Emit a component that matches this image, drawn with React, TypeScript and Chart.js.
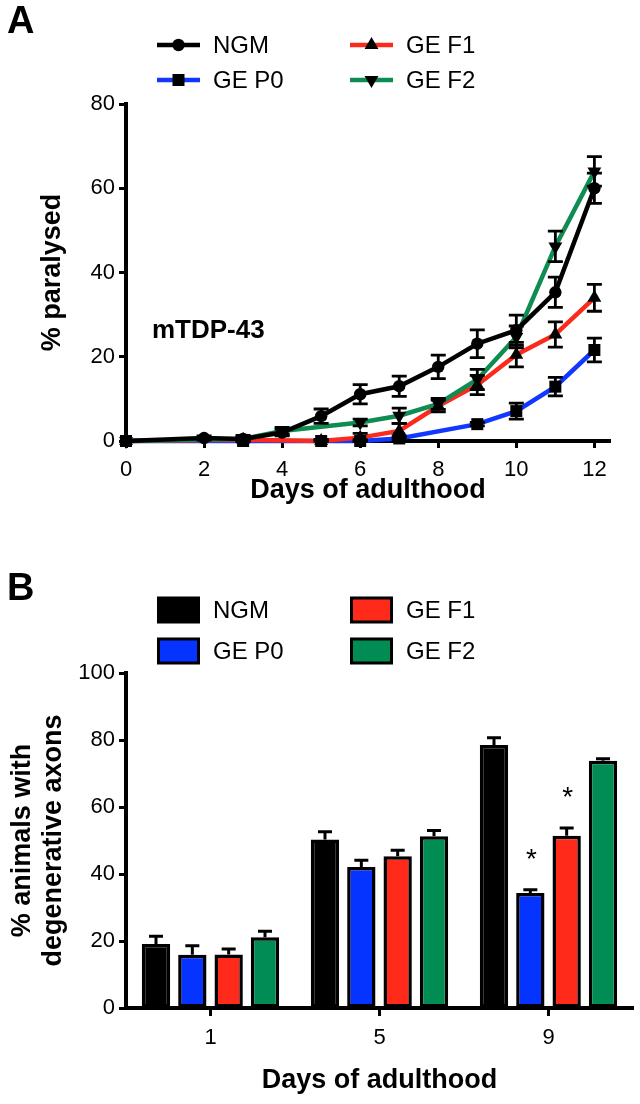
import React, { useEffect, useRef } from 'react';
import { Chart, registerables } from 'chart.js';

Chart.register(...registerables);

// ---------- Panel A data ----------
const seriesNames = ['NGM', 'GE P0', 'GE F1', 'GE F2'];

const ngmDays = [0, 2, 3, 4, 5, 6, 7, 8, 9, 10, 11, 12];
const ngmPct = [0, 0.7, 0.5, 2.0, 5.9, 11.1, 13.0, 17.6, 23.1, 26.3, 35.3, 60.0];
const ngmErr = [0, 0.5, 0.5, 0.8, 1.7, 2.3, 2.4, 2.8, 3.3, 3.6, 3.6, 3.6];

const p0Days = [0, 3, 5, 6, 7, 9, 10, 11, 12];
const p0Pct = [0, 0, 0, 0, 0.6, 4.0, 7.1, 12.9, 21.6];
const p0Err = [0, 0, 0.3, 0.3, 0.6, 0.4, 1.9, 2.2, 2.8];

const f1Days = [0, 3, 5, 6, 7, 8, 9, 10, 11, 12];
const f1Pct = [0, 0.3, 0, 0.8, 2.4, 8.3, 13.3, 20.5, 25.3, 34.0];
const f1Err = [0, 0.6, 0.3, 1.0, 1.8, 1.4, 2.3, 2.9, 3.0, 3.2];

const f2Days = [0, 3, 4, 6, 7, 8, 9, 10, 11, 12];
const f2Pct = [0, 0.5, 2.4, 4.4, 6.0, 8.8, 14.6, 24.7, 46.2, 64.0];
const f2Err = [0, 0.8, 0.8, 0.8, 1.8, 1.3, 2.4, 2.6, 3.6, 3.5];

const xTicksA = [0, 2, 4, 6, 8, 10, 12];

// ---------- Panel B data ----------
const bDays = ['1', '5', '9'];
const ngmB = [19.1, 50.3, 78.5];
const ngmBErr = [2.3, 2.3, 2.2];
const p0B = [15.9, 42.1, 34.3];
const p0BErr = [2.7, 2.0, 1.0];
const f1B = [16.0, 45.3, 51.4];
const f1BErr = [1.6, 1.8, 2.3];
const f2B = [21.1, 51.3, 73.8];
const f2BErr = [1.8, 1.7, 0.6];
const p0BStars = ['', '', '*'];
const f1BStars = ['', '', '*'];

// ---------- styling ----------
const BLACK = '#000000';
const BLUE = '#1238ff';
const RED = '#fa2a1c';
const GREEN = '#0f8c52';
const BAR_BLUE = '#0533ff';
const BAR_RED = '#ff2a1a';
const BAR_GREEN = '#008c52';
const FONT = "'Liberation Sans', Arial, sans-serif";

type Marker = 'circle' | 'rect' | 'triUp' | 'triDown';

function drawMarker(ctx: CanvasRenderingContext2D, m: Marker, x: number, y: number) {
  ctx.save();
  ctx.fillStyle = BLACK;
  ctx.beginPath();
  if (m === 'circle') {
    ctx.arc(x, y, 6.2, 0, Math.PI * 2);
  } else if (m === 'rect') {
    ctx.rect(x - 6, y - 6, 12, 12);
  } else {
    const r = 8;
    const s = m === 'triUp' ? 1 : -1;
    ctx.moveTo(x, y - s * r);
    ctx.lineTo(x + 0.866 * r, y + s * 0.5 * r);
    ctx.lineTo(x - 0.866 * r, y + s * 0.5 * r);
    ctx.closePath();
  }
  ctx.fill();
  ctx.restore();
}

const seriesA = [
  { name: seriesNames[0], days: ngmDays, pct: ngmPct, err: ngmErr, color: BLACK, marker: 'circle' as Marker },
  { name: seriesNames[3], days: f2Days, pct: f2Pct, err: f2Err, color: GREEN, marker: 'triDown' as Marker },
  { name: seriesNames[2], days: f1Days, pct: f1Pct, err: f1Err, color: RED, marker: 'triUp' as Marker },
  { name: seriesNames[1], days: p0Days, pct: p0Pct, err: p0Err, color: BLUE, marker: 'rect' as Marker },
];

const legendA = [
  { name: seriesNames[0], color: BLACK, marker: 'circle' as Marker, col: 0, row: 0 },
  { name: seriesNames[1], color: BLUE, marker: 'rect' as Marker, col: 0, row: 1 },
  { name: seriesNames[2], color: RED, marker: 'triUp' as Marker, col: 1, row: 0 },
  { name: seriesNames[3], color: GREEN, marker: 'triDown' as Marker, col: 1, row: 1 },
];

const legendB = [
  { name: seriesNames[0], color: BLACK, col: 0, row: 0 },
  { name: seriesNames[1], color: BAR_BLUE, col: 0, row: 1 },
  { name: seriesNames[2], color: BAR_RED, col: 1, row: 0 },
  { name: seriesNames[3], color: BAR_GREEN, col: 1, row: 1 },
];

const LEG_COL_X = [157, 350];

const pluginA = {
  id: 'panelA',
  afterDatasetsDraw(chart: any) {
    const ctx: CanvasRenderingContext2D = chart.ctx;
    const xs = chart.scales.x;
    const ys = chart.scales.y;
    ctx.save();
    ctx.strokeStyle = BLACK;
    ctx.lineWidth = 2.8;
    const cap = 7.5;
    seriesA.forEach((s) => {
      s.days.forEach((d, i) => {
        const e = s.err[i];
        if (!e) return;
        const px = xs.getPixelForValue(d);
        const yt = ys.getPixelForValue(s.pct[i] + e);
        const yb = ys.getPixelForValue(Math.max(0, s.pct[i] - e));
        ctx.beginPath();
        ctx.moveTo(px, yt);
        ctx.lineTo(px, yb);
        ctx.moveTo(px - cap, yt);
        ctx.lineTo(px + cap, yt);
        ctx.moveTo(px - cap, yb);
        ctx.lineTo(px + cap, yb);
        ctx.stroke();
      });
    });
    seriesA.slice().reverse().forEach((s) => {
      s.days.forEach((d, i) => {
        drawMarker(ctx, s.marker, xs.getPixelForValue(d), ys.getPixelForValue(s.pct[i]));
      });
    });
    ctx.restore();
  },
  afterDraw(chart: any) {
    const ctx: CanvasRenderingContext2D = chart.ctx;
    ctx.save();
    ctx.fillStyle = BLACK;
    ctx.font = `bold 38px ${FONT}`;
    ctx.textBaseline = 'alphabetic';
    ctx.textAlign = 'left';
    ctx.fillText('A', 7, 33);
    const rowY = [45, 80];
    legendA.forEach((l) => {
      const x1 = LEG_COL_X[l.col];
      const y = rowY[l.row];
      ctx.strokeStyle = l.color;
      ctx.lineWidth = 4.5;
      ctx.beginPath();
      ctx.moveTo(x1, y);
      ctx.lineTo(x1 + 43, y);
      ctx.stroke();
      drawMarker(ctx, l.marker, x1 + 21.5, y);
      ctx.fillStyle = BLACK;
      ctx.font = `24px ${FONT}`;
      ctx.textBaseline = 'middle';
      ctx.fillText(l.name, x1 + 56, y + 1);
    });
    ctx.font = `bold 26px ${FONT}`;
    ctx.textBaseline = 'middle';
    ctx.fillText('mTDP-43', chart.chartArea.left + 26, chart.scales.y.getPixelForValue(26.2));
    ctx.restore();
  },
};

const pluginB = {
  id: 'panelB',
  afterDatasetsDraw(chart: any) {
    const ctx: CanvasRenderingContext2D = chart.ctx;
    const ys = chart.scales.y;
    const errs = [ngmBErr, p0BErr, f1BErr, f2BErr];
    const vals = [ngmB, p0B, f1B, f2B];
    const stars = [null, p0BStars, f1BStars, null];
    ctx.save();
    ctx.strokeStyle = BLACK;
    ctx.lineWidth = 3;
    chart.data.datasets.forEach((ds: any, di: number) => {
      const meta = chart.getDatasetMeta(di);
      meta.data.forEach((bar: any, i: number) => {
        const top = ys.getPixelForValue(vals[di][i]);
        const et = ys.getPixelForValue(vals[di][i] + errs[di][i]);
        ctx.beginPath();
        ctx.moveTo(bar.x, top);
        ctx.lineTo(bar.x, et);
        ctx.moveTo(bar.x - 7, et);
        ctx.lineTo(bar.x + 7, et);
        ctx.stroke();
        const st = stars[di];
        if (st && st[i]) {
          ctx.fillStyle = BLACK;
          ctx.font = `28px ${FONT}`;
          ctx.textAlign = 'center';
          ctx.textBaseline = 'alphabetic';
          ctx.fillText(st[i], bar.x + 1, et - 22);
        }
      });
    });
    ctx.restore();
  },
  afterDraw(chart: any) {
    const ctx: CanvasRenderingContext2D = chart.ctx;
    ctx.save();
    ctx.fillStyle = BLACK;
    ctx.font = `bold 38px ${FONT}`;
    ctx.textBaseline = 'alphabetic';
    ctx.textAlign = 'left';
    ctx.fillText('B', 7, 55);
    const rowY = [65, 106];
    legendB.forEach((l) => {
      const x1 = LEG_COL_X[l.col];
      const y = rowY[l.row];
      ctx.fillStyle = BLACK;
      ctx.fillRect(x1, y - 13.5, 43, 27);
      ctx.fillStyle = l.color;
      ctx.fillRect(x1 + 3, y - 10.5, 37, 21);
      ctx.fillStyle = BLACK;
      ctx.font = `24px ${FONT}`;
      ctx.textBaseline = 'middle';
      ctx.fillText(l.name, x1 + 56, y + 1);
    });
    ctx.restore();
  },
};

const axisCommon = {
  border: { display: true, color: BLACK, width: 4 },
  grid: { display: true, drawOnChartArea: false, drawTicks: true, tickLength: 7, tickWidth: 3, tickColor: BLACK, color: BLACK },
};

const titleFont = { family: FONT, size: 27, weight: 'bold' };
const tickFont = { family: FONT, size: 22 };

export default function App() {
  const refA = useRef<HTMLCanvasElement>(null);
  const refB = useRef<HTMLCanvasElement>(null);

  useEffect(() => {
    document.body.style.margin = '0';
    const chartA = new Chart(refA.current as HTMLCanvasElement, {
      type: 'line',
      data: {
        datasets: seriesA.map((s) => ({
          label: s.name,
          data: s.days.map((d, i) => ({ x: d, y: s.pct[i] })),
          borderColor: s.color,
          backgroundColor: s.color,
          borderWidth: 4.5,
          pointRadius: 0,
          tension: 0,
          fill: false,
          clip: false as any,
        })),
      },
      options: {
        responsive: false,
        animation: false,
        layout: { padding: { top: 104, right: 30, left: 0, bottom: 0 } },
        plugins: { legend: { display: false }, tooltip: { enabled: false } },
        scales: {
          x: {
            type: 'linear',
            min: 0,
            max: 12.4,
            ...axisCommon,
            afterBuildTicks: (scale: any) => {
              scale.ticks = xTicksA.map((v) => ({ value: v }));
            },
            afterFit: (scale: any) => {
              scale.height = 104;
            },
            ticks: { color: BLACK, font: tickFont, padding: 9, maxRotation: 0 },
            title: {
              display: true,
              text: 'Days of adulthood',
              color: BLACK,
              font: titleFont,
              padding: { top: 0, bottom: 38 },
            },
          },
          y: {
            type: 'linear',
            min: 0,
            max: 80,
            ...axisCommon,
            afterFit: (scale: any) => {
              scale.width = 126;
            },
            ticks: { color: BLACK, font: tickFont, padding: 4, stepSize: 20 },
            title: {
              display: true,
              text: '% paralysed',
              color: BLACK,
              font: titleFont,
              padding: { top: 36, bottom: 0 },
            },
          },
        },
      } as any,
      plugins: [pluginA],
    });

    const chartB = new Chart(refB.current as HTMLCanvasElement, {
      type: 'bar',
      data: {
        labels: bDays,
        datasets: [
          { label: seriesNames[0], data: ngmB, backgroundColor: BLACK },
          { label: seriesNames[1], data: p0B, backgroundColor: BAR_BLUE },
          { label: seriesNames[2], data: f1B, backgroundColor: BAR_RED },
          { label: seriesNames[3], data: f2B, backgroundColor: BAR_GREEN },
        ].map((d) => ({
          ...d,
          borderColor: BLACK,
          borderWidth: 3.5,
          borderSkipped: false,
          categoryPercentage: 0.86,
          barPercentage: 0.78,
        })),
      },
      options: {
        responsive: false,
        animation: false,
        layout: { padding: { top: 128, right: 7, left: 0, bottom: 0 } },
        plugins: { legend: { display: false }, tooltip: { enabled: false } },
        scales: {
          x: {
            type: 'category',
            offset: true,
            border: { display: true, color: BLACK, width: 4 },
            grid: { display: true, offset: false, drawOnChartArea: false, drawTicks: true, tickLength: 8, tickWidth: 3, tickColor: BLACK, color: BLACK },
            afterFit: (scale: any) => {
              scale.height = 96;
            },
            ticks: { color: BLACK, font: tickFont, padding: 9, maxRotation: 0 },
            title: {
              display: true,
              text: 'Days of adulthood',
              color: BLACK,
              font: titleFont,
              padding: { top: 0, bottom: 7 },
            },
          },
          y: {
            type: 'linear',
            min: 0,
            max: 100,
            ...axisCommon,
            afterFit: (scale: any) => {
              scale.width = 126;
            },
            ticks: { color: BLACK, font: tickFont, padding: 4, stepSize: 20 },
            title: {
              display: true,
              text: ['% animals with', 'degenerative axons'],
              color: BLACK,
              font: { ...titleFont, lineHeight: 1.15 },
              padding: { top: 7, bottom: 0 },
            },
          },
        },
      } as any,
      plugins: [pluginB],
    });

    return () => {
      chartA.destroy();
      chartB.destroy();
    };
  }, []);

  return (
    <div style={{ width: 640, height: 1104, background: '#ffffff' }}>
      <canvas ref={refA} width={640} height={545} style={{ display: 'block', width: 640, height: 545 }} />
      <canvas ref={refB} width={640} height={559} style={{ display: 'block', width: 640, height: 559 }} />
    </div>
  );
}
